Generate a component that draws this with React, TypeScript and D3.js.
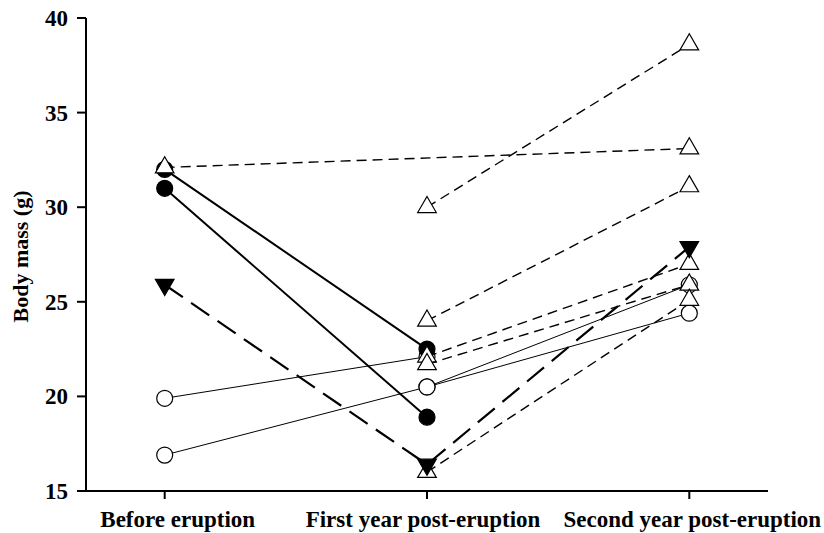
import * as d3 from 'd3';

const categories = ['Before eruption', 'First year post-eruption', 'Second year post-eruption'];
const yTicks = [15, 20, 25, 30, 35, 40];

// open circles, thin solid lines
const openA = [19.9, 22.1, null];
const openB = [16.9, 20.5, 25.9];
const openC = [null, 20.5, 24.4];
// filled circles, thick solid lines
const filledA = [32.0, 22.5, null];
const filledB = [31.0, 18.9, null];
// open triangles, short dashes
const triA = [32.1, null, 33.1];
const triB = [null, 30.0, 38.6];
const triC = [null, 24.0, 31.1];
const triD = [null, 22.1, 27.0];
const triE = [null, 21.7, 25.9];
const triF = [null, 16.0, 25.1];
// filled inverted triangle, long dashes
const invA = [25.9, 16.4, 27.9];

type Val = number | null;

const W = 824;
const H = 533;
const left = 86;
const right = 768;
const top = 18;
const bottom = 491;
const font = '"Liberation Serif", "Times New Roman", Times, serif';
// the category labels are not quite centred on their ticks in the original
const labelShift = [13, -4, 3];

export default function App() {
  const x = d3.scalePoint<string>().domain(categories).range([left, right]).padding(0.3);
  const y = d3.scaleLinear().domain([15, 40]).range([bottom, top]);

  const pts = (vals: Val[]) =>
    vals
      .map((v, i) => (v == null ? null : { cx: x(categories[i]) as number, cy: y(v) }))
      .filter((p): p is { cx: number; cy: number } => p != null);

  const line = d3.line<{ cx: number; cy: number }>().x(d => d.cx).y(d => d.cy);
  const tri = d3.symbol(d3.symbolTriangle, 150)() as string;

  const series = (
    vals: Val[],
    key: string,
    kind: 'open' | 'filled' | 'tri' | 'inv',
  ) => {
    const p = pts(vals);
    let stroke = 1;
    let dash: string | undefined;
    if (kind === 'filled') stroke = 2;
    if (kind === 'tri') { stroke = 1.4; dash = '10,6'; }
    if (kind === 'inv') { stroke = 2.2; dash = '22,10'; }
    return (
      <g key={key}>
        <path d={line(p) as string} fill="none" stroke="#000" strokeWidth={stroke} strokeDasharray={dash} />
        {p.map((d, i) =>
          kind === 'open' || kind === 'filled' ? (
            <circle key={i} cx={d.cx} cy={d.cy} r={8} fill={kind === 'filled' ? '#000' : '#fff'} stroke="#000" strokeWidth={1.2} />
          ) : (
            <path key={i} d={tri} transform={`translate(${d.cx},${d.cy})${kind === 'inv' ? ' rotate(180)' : ''}`}
              fill={kind === 'inv' ? '#000' : '#fff'} stroke="#000" strokeWidth={1.2} />
          ),
        )}
      </g>
    );
  };

  return (
    <svg width={W} height={H} style={{ position: 'absolute', left: 0, top: 0, background: '#fff' }}>
      {/* axes */}
      <line x1={left} x2={left} y1={top} y2={bottom} stroke="#000" strokeWidth={2} />
      <line x1={left - 1} x2={right} y1={bottom} y2={bottom} stroke="#000" strokeWidth={2} />
      {yTicks.map(t => (
        <g key={t} transform={`translate(0,${y(t)})`}>
          <line x1={left - 9} x2={left} stroke="#000" strokeWidth={2} />
          <text x={left - 18} textAnchor="end" dy="0.35em"
            fontFamily={font} fontWeight="bold" fontSize={23}>{t}</text>
        </g>
      ))}
      {categories.map((c, i) => (
        <g key={c} transform={`translate(${x(c)},0)`}>
          <line y1={bottom} y2={bottom + 8} stroke="#000" strokeWidth={2} />
          <text x={labelShift[i]} y={bottom + 36} textAnchor="middle"
            fontFamily={font} fontWeight="bold" fontSize={23}>{c}</text>
        </g>
      ))}
      <text transform={`translate(28,${(top + bottom) / 2 + 2}) rotate(-90)`} textAnchor="middle"
        fontFamily={font} fontWeight="bold" fontSize={22}>Body mass (g)</text>

      {series(openA, 'oA', 'open')}
      {series(openB, 'oB', 'open')}
      {series(openC, 'oC', 'open')}
      {series(filledA, 'fA', 'filled')}
      {series(filledB, 'fB', 'filled')}
      {series(triA, 'tA', 'tri')}
      {series(triB, 'tB', 'tri')}
      {series(triC, 'tC', 'tri')}
      {series(triD, 'tD', 'tri')}
      {series(triE, 'tE', 'tri')}
      {series(triF, 'tF', 'tri')}
      {series(invA, 'iA', 'inv')}
    </svg>
  );
}
